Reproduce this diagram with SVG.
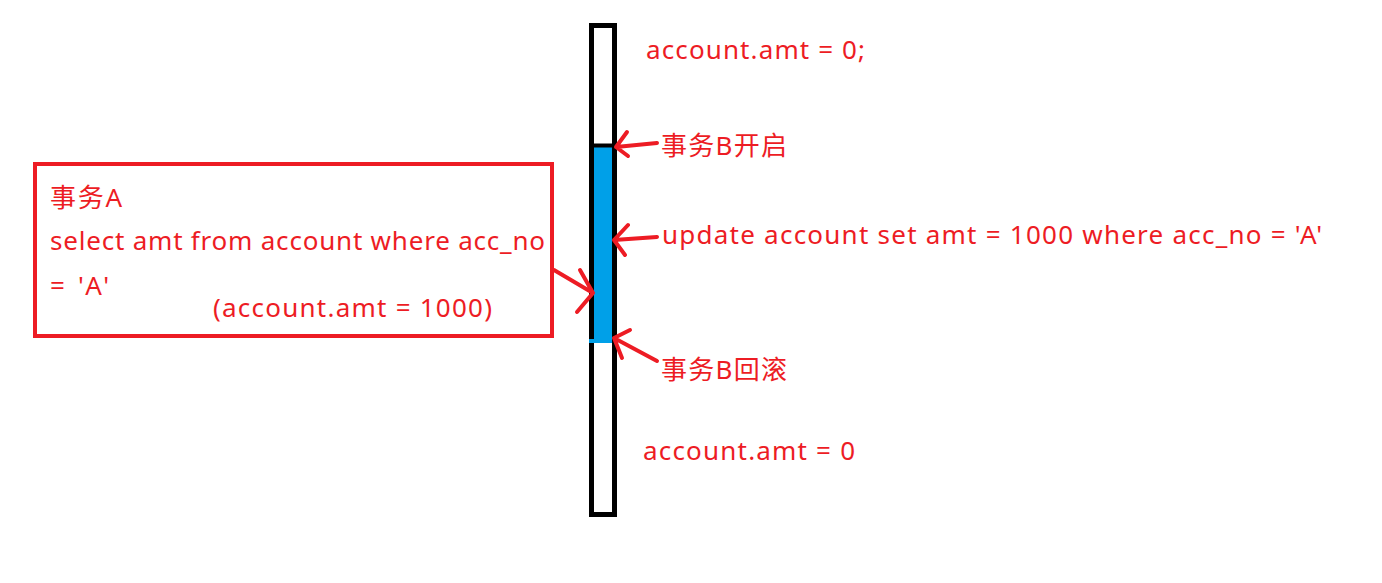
<svg xmlns="http://www.w3.org/2000/svg" width="1382" height="583" viewBox="0 0 1382 583">
<style>
  .t { font-family: "Noto Sans", "Noto Sans CJK SC", sans-serif; font-size: 26px; fill: #ed1c24; }
  .arr { fill: none; stroke: #ed1c24; stroke-width: 4; stroke-linecap: round; stroke-linejoin: round; }
</style>
<rect x="0" y="0" width="1382" height="583" fill="#ffffff"/>
<g id="timeline">
  <rect x="591.5" y="25.5" width="23" height="489" fill="#ffffff" stroke="#000000" stroke-width="5"/>
  <rect x="594" y="147" width="18" height="196" fill="#00a0e8"/>
  <rect x="589" y="339" width="23" height="4" fill="#00a0e8"/>
  <line x1="594" y1="145.5" x2="612" y2="145.5" stroke="#000000" stroke-width="4"/>
  <text class="t" x="646" y="59" textLength="219" lengthAdjust="spacing">account.amt = 0;</text>
  <text class="t" x="643" y="460" textLength="212" lengthAdjust="spacing">account.amt = 0</text>
</g>
<g id="txA">
  <rect x="35" y="164" width="517" height="172" fill="none" stroke="#ed1c24" stroke-width="4"/>
  <text class="t" x="50" y="207" textLength="72" lengthAdjust="spacing">事务A</text>
  <text class="t" x="50" y="250" textLength="495" lengthAdjust="spacing">select amt from account where acc_no</text>
  <text class="t" x="50" y="295" textLength="59" lengthAdjust="spacing">= 'A'</text>
  <text class="t" x="213" y="317" textLength="279" lengthAdjust="spacing">(account.amt = 1000)</text>
</g>
<g id="b-start">
  <text class="t" x="661" y="155" textLength="126" lengthAdjust="spacing">事务B开启</text>
</g>
<g id="b-update">
  <text class="t" x="662" y="244" textLength="660" lengthAdjust="spacing">update account set amt = 1000 where acc_no = 'A'</text>
</g>
<g id="b-rollback">
  <text class="t" x="661" y="379" textLength="126" lengthAdjust="spacing">事务B回滚</text>
</g>
<g id="connectors">
  <path class="arr" d="M657 143 L616 147 M627 132 L616 147 L628 156"/>
  <path class="arr" d="M657 237 L614 240 M628 225 L614 240 L625 255"/>
  <path class="arr" d="M554 270 L593 293 M580 270 L593 293 L577 312"/>
  <path class="arr" d="M657 361 L614 338 M630 330 L614 338 L622 358"/>
</g>
</svg>
